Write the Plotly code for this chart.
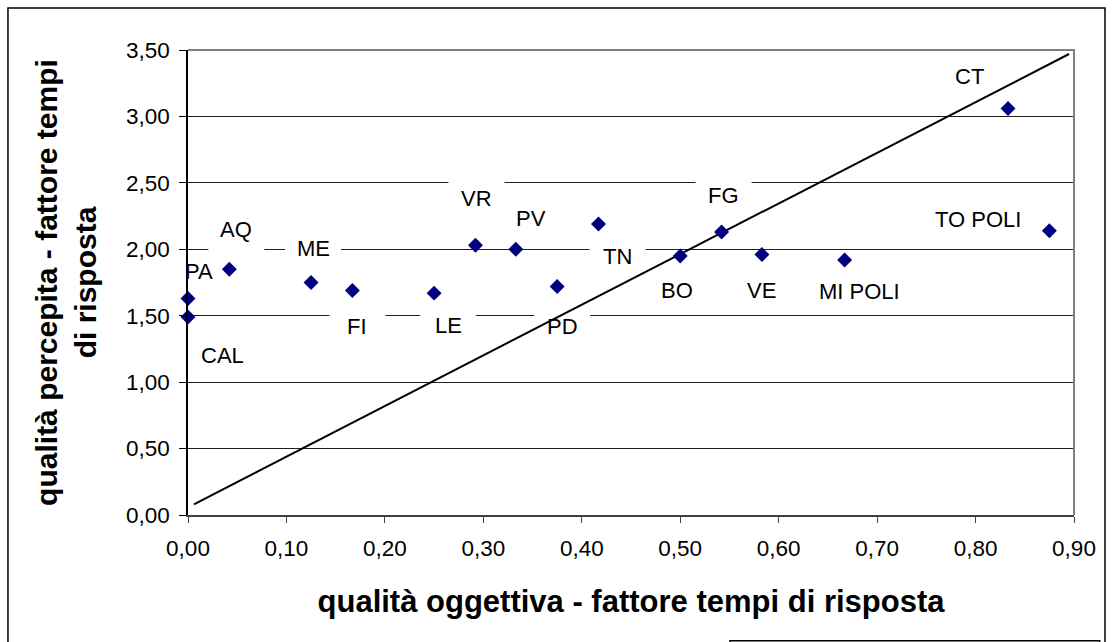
import plotly.graph_objects as go

# ---------------- data ----------------
names = ["PA", "CAL", "AQ", "ME", "FI", "LE", "VR", "PV", "PD", "TN",
         "BO", "FG", "VE", "MI POLI", "CT", "TO POLI"]
obj_quality = [0.0, 0.0, 0.042, 0.125, 0.167, 0.25, 0.292, 0.333, 0.375, 0.417,
               0.5, 0.542, 0.583, 0.667, 0.833, 0.875]
perc_quality = [1.63, 1.49, 1.85, 1.75, 1.69, 1.67, 2.03, 2.00, 1.72, 2.19,
                1.95, 2.13, 1.96, 1.92, 3.06, 2.14]
line_x = [0.006, 0.895]
line_y = [0.08, 3.47]
x_ticks = [0.0, 0.1, 0.2, 0.3, 0.4, 0.5, 0.6, 0.7, 0.8, 0.9]
y_ticks = [0.0, 0.5, 1.0, 1.5, 2.0, 2.5, 3.0, 3.5]
x_title = "qualità oggettiva - fattore tempi di risposta"
y_title = "qualità percepita - fattore tempi<br>di risposta"

# ---------------- label placement (pixels, screen offsets from the point) ----------------
label_dx = [11, 34, 7, 2, 5, 14, 1, 15, 5, 19, -3, 2, 0, 15, -39, -71]
label_dy = [-27, 38, -40, -34, 36, 32, -47, -31, 40, 32, 35, -37, 36, 32, -32, -11]
box_top = [-17] * 16
box_bot = [17] * 16
box_top[2], box_bot[2] = -14, 25   # AQ box reaches down over the 2,00 gridline
BOX_HALF_W = 28

FONT = "Liberation Sans, Arial, Helvetica, sans-serif"

fig = go.Figure()

fig.add_trace(go.Scatter(
    x=line_x, y=line_y, mode="lines",
    line=dict(color="black", width=2), hoverinfo="skip", showlegend=False))

fig.add_trace(go.Scatter(
    x=obj_quality, y=perc_quality, mode="markers", text=names,
    marker=dict(symbol="diamond", size=11.5, color="#000080", line=dict(width=0)),
    cliponaxis=False, showlegend=False))

shapes = []
annotations = []
for n, xv, yv, dx, dy, bt, bb in zip(names, obj_quality, perc_quality,
                                     label_dx, label_dy, box_top, box_bot):
    shapes.append(dict(
        type="rect", layer="between",
        xref="x", xsizemode="pixel", xanchor=xv, x0=dx - BOX_HALF_W, x1=dx + BOX_HALF_W,
        yref="y", ysizemode="pixel", yanchor=yv, y0=-(dy + bt), y1=-(dy + bb),
        fillcolor="white", line=dict(width=0)))
    annotations.append(dict(
        x=xv, y=yv, xref="x", yref="y", text=n, showarrow=False,
        xshift=dx, yshift=-dy, font=dict(family=FONT, size=22, color="black")))

# plot-area border (top and right, grey)
shapes.append(dict(type="path", xref="paper", yref="paper", path="M 0,1 L 1,1 L 1,0",
                   line=dict(color="#808080", width=2), layer="above"))
# outer chart border
shapes.append(dict(type="rect", xref="paper", yref="paper",
                   x0=-0.2032, x1=1.035, y0=-0.35, y1=1.0903,
                   line=dict(color="black", width=1.5), layer="above"))
# legend box (mostly cut off at the bottom)
shapes.append(dict(type="rect", xref="paper", yref="paper",
                   x0=0.6117, x1=1.029, y0=-0.40, y1=-0.2705,
                   line=dict(color="black", width=1.5), fillcolor="white", layer="above"))

fig.update_layout(
    width=1113, height=642,
    margin=dict(l=188, r=39, t=50, b=127),
    paper_bgcolor="white", plot_bgcolor="white",
    separators=",.",
    showlegend=False,
    font=dict(family=FONT, color="black"),
    shapes=shapes, annotations=annotations,
    xaxis=dict(
        range=[0, 0.9], tickvals=x_ticks, tickformat=".2f",
        ticks="outside", ticklen=6, tickcolor="#404040", tickwidth=1,
        ticklabelstandoff=6,
        showgrid=False, zeroline=False,
        showline=True, linecolor="#404040", linewidth=2,
        tickfont=dict(family=FONT, size=22.5, color="black"),
        title=dict(text=x_title, standoff=30,
                   font=dict(family=FONT, size=31, color="black", weight=700))),
    yaxis=dict(
        range=[0, 3.5], tickvals=y_ticks, tickformat=".2f",
        ticks="outside", ticklen=7, tickcolor="black", tickwidth=1,
        ticklabelstandoff=5,
        showgrid=True, gridcolor="#202020", gridwidth=1,
        zeroline=False,
        showline=True, linecolor="black", linewidth=1.5,
        tickfont=dict(family=FONT, size=22.5, color="black"),
        title=dict(text=y_title, standoff=20,
                   font=dict(family=FONT, size=30, color="black", weight=700))),
)

fig.write_html("out.html", config={"displayModeBar": False},
               post_script="document.body.style.margin='0';")
